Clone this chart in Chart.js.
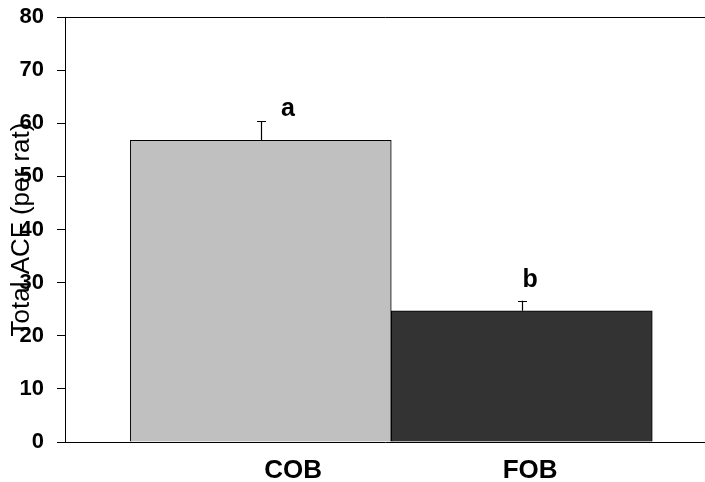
<!DOCTYPE html>
<html>
<head>
<meta charset="utf-8">
<script src="https://cdn.jsdelivr.net/npm/chart.js@4.4.1/dist/chart.umd.min.js"></script>
<style>
  html, body { margin: 0; padding: 0; background: #fff; }
  canvas { display: block; }
</style>
</head>
<body>
<canvas id="c" width="705" height="482"></canvas>
<script>
// ---- data ----
const categories = ['COB', 'FOB'];
const means = [56.8, 24.7];
const errorsUp = [3.6, 1.9];
const groupLetters = ['a', 'b'];
const barX = [0.75, 1.75];          // bar centres on the x scale
const labelX = [0.874, 1.782];      // category label positions on the x scale
const letterX = [0.854, 1.782];     // significance letters x
const letterY = [62.6, 30.5];       // significance letters y (value units)
const yMin = 0, yMax = 80, yStep = 10;
const xMin = 0, xMax = 2.452;
const yTitle = 'Total ACF (per rat)';

const FONT = "'Liberation Sans', Arial, sans-serif";

const extras = {
  id: 'extras',
  afterDatasetsDraw(chart) {
    const ctx = chart.ctx;
    const xs = chart.scales.x, ys = chart.scales.y;
    const meta = chart.getDatasetMeta(0);
    ctx.save();
    ctx.strokeStyle = '#000';
    ctx.lineWidth = 1.2;
    meta.data.forEach((bar, i) => {
      const x = Math.round(bar.x) + 0.5;
      const yTop = ys.getPixelForValue(means[i] + errorsUp[i]);
      const yBase = ys.getPixelForValue(means[i]);
      ctx.beginPath();
      ctx.moveTo(x, yBase);
      ctx.lineTo(x, yTop);
      ctx.moveTo(x - 4.5, Math.round(yTop) + 0.5);
      ctx.lineTo(x + 4.5, Math.round(yTop) + 0.5);
      ctx.stroke();
    });
    ctx.fillStyle = '#000';
    ctx.font = 'bold 25px ' + FONT;
    ctx.textAlign = 'center';
    ctx.textBaseline = 'middle';
    groupLetters.forEach((t, i) => {
      ctx.fillText(t, xs.getPixelForValue(letterX[i]), ys.getPixelForValue(letterY[i]));
    });
    ctx.restore();
  },
  afterDraw(chart) {
    const ctx = chart.ctx;
    const ys = chart.scales.y;
    ctx.save();
    ctx.translate(22, (ys.top + ys.bottom) / 2);
    ctx.rotate(-Math.PI / 2);
    ctx.fillStyle = '#000';
    ctx.font = '26px ' + FONT;
    ctx.textAlign = 'center';
    ctx.textBaseline = 'middle';
    ctx.fillText(yTitle, 0, 0);
    ctx.restore();
  }
};

new Chart(document.getElementById('c'), {
  type: 'bar',
  data: {
    datasets: [{
      data: categories.map((c, i) => ({ x: barX[i], y: means[i] })),
      backgroundColor: ['#c0c0c0', '#333333'],
      borderColor: '#000',
      borderWidth: 1,
      barThickness: 261
    }]
  },
  options: {
    responsive: false,
    animation: false,
    events: [],
    layout: { padding: { top: 17, right: 0, bottom: 0, left: 0 } },
    plugins: { legend: { display: false }, tooltip: { enabled: false } },
    scales: {
      x: {
        type: 'linear',
        min: xMin,
        max: xMax,
        offset: false,
        afterBuildTicks: (s) => { s.ticks = labelX.map(v => ({ value: v })); },
        afterFit: (s) => { s.height = 40; s.paddingLeft = 0; s.paddingRight = 0; },
        grid: { display: false, drawTicks: false },
        border: { display: true, color: '#000', width: 1 },
        ticks: {
          autoSkip: false,
          maxRotation: 0,
          padding: 13,
          color: '#000',
          font: { family: FONT, size: 26, weight: 'bold' },
          callback: (v, i) => categories[i]
        }
      },
      y: {
        min: yMin,
        max: yMax,
        afterFit: (s) => { s.width = 65; s.paddingTop = 0; s.paddingBottom = 0; },
        grid: {
          color: (c) => (c.tick && c.tick.value === yMax ? '#000' : 'rgba(0,0,0,0)'),
          tickColor: '#000',
          tickLength: 8,
          drawOnChartArea: true
        },
        border: { display: true, color: '#000', width: 1 },
        ticks: {
          stepSize: yStep,
          padding: 13,
          color: '#000',
          font: { family: FONT, size: 22, weight: 'bold' }
        }
      }
    }
  },
  plugins: [extras]
});
</script>
</body>
</html>
